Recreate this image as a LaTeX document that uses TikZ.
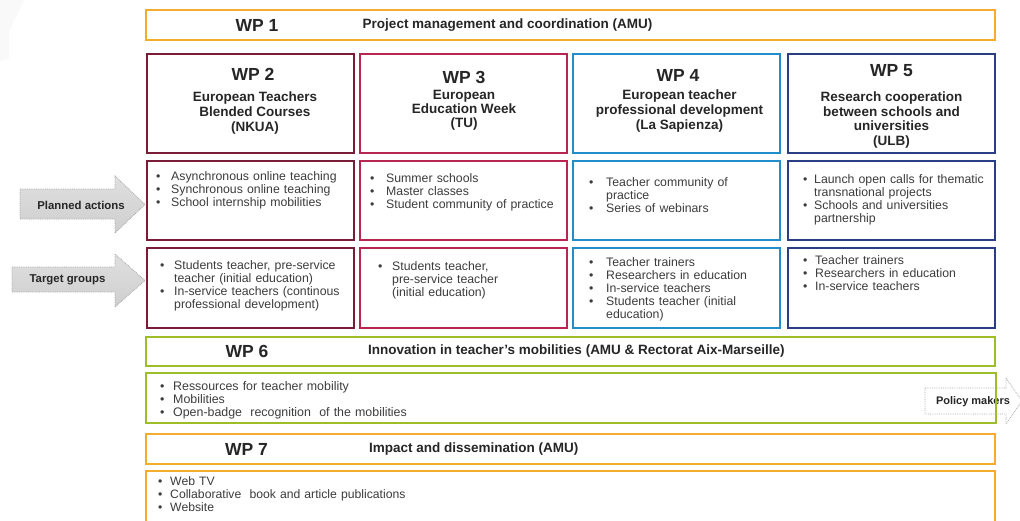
\documentclass[tikz,border=0pt]{standalone}
\usepackage{fontspec}
\usepackage{graphicx}
\setmainfont{Liberation Sans}
\definecolor{cOrange}{RGB}{244,172,45}
\definecolor{cMaroon}{RGB}{122,28,55}
\definecolor{cCrimson}{RGB}{184,38,82}
\definecolor{cBlue}{RGB}{32,142,205}
\definecolor{cNavy}{RGB}{42,62,132}
\definecolor{cGreen}{RGB}{158,190,40}
\definecolor{cText}{RGB}{38,38,38}
\definecolor{cList}{RGB}{60,60,60}
\newcommand{\bli}[2]{\noindent\hangindent=#1\hangafter=1\makebox[#1][l]{\textbullet}#2\par}
\begin{document}
\begin{tikzpicture}[x=1pt,y=-1pt,
  box/.style={draw, line width=2.2pt, inner sep=0pt, fill=white},
  wpnum/.style={font=\bfseries\fontsize{17.5}{19}\selectfont, text=cText, inner sep=0pt},
  wptitle/.style={font=\bfseries\fontsize{13.5}{15}\selectfont, align=center, text=cText, inner sep=0pt},
  wpline/.style={font=\bfseries\fontsize{13.5}{15}\selectfont, text=cText, inner sep=0pt},
  blist/.style={font=\fontsize{12.3}{13}\selectfont, text=cList, anchor=north west, align=left, inner sep=0pt, text width=200pt},
  nlist/.style={font=\fontsize{12.4}{13}\selectfont, text=cList, anchor=north west, align=left, inner sep=0pt, text width=400pt},
  garrow/.style={draw=gray!70, line width=0.8pt, densely dotted, top color=gray!25, bottom color=gray!38},
  parrow/.style={draw=gray!65, line width=0.8pt, densely dotted, fill=white},
  albl/.style={font=\bfseries\fontsize{11.4}{13}\selectfont, text=cText, inner sep=0pt}
]
\useasboundingbox (0,0) rectangle (1020,520);
% faint corner shape
\fill[gray!5] (0,0) -- (24,0) -- (9,32) -- (9,58) -- (0,62) -- cycle;

% WP1
\node[box, draw=cOrange, minimum width=849, minimum height=30] (wp1) at (570.5,25) {};
\node[wpnum] (wp1n) at (257,25) {WP 1};
\node[wpline] (wp1t) at (507.5,25) {Project management and coordination (AMU)};

% header boxes
\node[box, draw=cMaroon, minimum width=207, minimum height=99] (wp2h) at (250.5,103.5) {};
\node[box, draw=cCrimson, minimum width=207, minimum height=99] (wp3h) at (463.5,103.5) {};
\node[box, draw=cBlue, minimum width=207, minimum height=99] (wp4h) at (676.5,103.5) {};
\node[box, draw=cNavy, minimum width=207, minimum height=99] (wp5h) at (891.5,103.5) {};

\node[wpnum] (wp2n) at (253,74) {WP 2};
\node[wptitle] (wp2t) at (255,113.5) {European Teachers\\Blended Courses\\(NKUA)};
\node[wpnum] (wp3n) at (464,77) {WP 3};
\node[wptitle, font=\bfseries\fontsize{13.5}{14}\selectfont] (wp3t) at (464,110) {European\\Education Week\\(TU)};
\node[wpnum] (wp4n) at (678,75) {WP 4};
\node[wptitle] (wp4t) at (679.5,111.5) {European teacher\\professional development\\(La Sapienza)};
\node[wpnum] (wp5n) at (891.5,71) {WP 5};
\node[wptitle, font=\bfseries\fontsize{13.5}{14.5}\selectfont] (wp5t) at (891.5,120) {Research cooperation\\between schools and\\universities\\(ULB)};

% planned actions row
\node[box, draw=cMaroon, minimum width=207, minimum height=79] (wp2a) at (250.5,200.5) {};
\node[box, draw=cCrimson, minimum width=207, minimum height=79] (wp3a) at (463.5,200.5) {};
\node[box, draw=cBlue, minimum width=207, minimum height=79] (wp4a) at (676.5,200.5) {};
\node[box, draw=cNavy, minimum width=207, minimum height=79] (wp5a) at (891.5,200.5) {};

\node[blist] (wp2al) at (156,171) {\bli{15pt}{Asynchronous online teaching}\bli{15pt}{Synchronous online teaching}\bli{15pt}{School internship mobilities}};
\node[blist] (wp3al) at (370,173) {\bli{16pt}{Summer schools}\bli{16pt}{Master classes}\bli{16pt}{Student community of practice}};
\node[blist] (wp4al) at (589,177) {\bli{17pt}{Teacher community of\newline practice}\bli{17pt}{Series of webinars}};
\node[blist] (wp5al) at (803,174) {\bli{11pt}{Launch open calls for thematic\newline transnational projects}\bli{11pt}{Schools and universities\newline partnership}};

% target groups row
\node[box, draw=cMaroon, minimum width=207, minimum height=80] (wp2g) at (250.5,288) {};
\node[box, draw=cCrimson, minimum width=207, minimum height=80] (wp3g) at (463.5,288) {};
\node[box, draw=cBlue, minimum width=207, minimum height=80] (wp4g) at (676.5,288) {};
\node[box, draw=cNavy, minimum width=207, minimum height=80] (wp5g) at (891.5,288) {};

\node[blist] (wp2gl) at (160,260) {\bli{14pt}{Students teacher, pre-service\newline teacher (initial education)}\bli{14pt}{In-service teachers (continous\newline professional development)}};
\node[blist] (wp3gl) at (378,261) {\bli{14pt}{Students teacher,\newline pre-service teacher\newline (initial education)}};
\node[blist] (wp4gl) at (589,257) {\bli{17pt}{Teacher trainers}\bli{17pt}{Researchers in education}\bli{17pt}{In-service teachers}\bli{17pt}{Students teacher (initial\newline education)}};
\node[blist] (wp5gl) at (803,255) {\bli{12pt}{Teacher trainers}\bli{12pt}{Researchers in education}\bli{12pt}{In-service teachers}};

% left arrows
\draw[garrow] (20,189) -- (115,189) -- (115,176) -- (145,204.5) -- (115,233) -- (115,219) -- (20,219) -- cycle;
\node[albl] (pa) at (81,205) {Planned actions};
\draw[garrow] (12,267) -- (115,267) -- (115,254) -- (145,280.5) -- (115,307) -- (115,292) -- (12,292) -- cycle;
\node[albl] (tg) at (67.5,280) {Target groups};

% policy makers arrow
\draw[parrow] (925,388) -- (1006,388) -- (1006,378) -- (1022,401) -- (1006,424) -- (1006,414) -- (925,414) -- cycle;
\node[albl, font=\bfseries\fontsize{11}{13}\selectfont] (pm) at (973,402) {Policy makers};

% WP6
\node[box, draw=cGreen, minimum width=849, minimum height=29] (wp6h) at (570.5,351.5) {};
\node[wpnum] (wp6n) at (247,351) {WP 6};
\node[wpline, anchor=west] (wp6t) at (368,351) {Innovation in teacher's mobilities (AMU \& Rectorat Aix-Marseille)};
\draw[cGreen, line width=2.2pt] (146,373) rectangle (996,423);
\node[inner sep=0pt, minimum size=0pt] (wp6b) at (570.5,398) {};
\node[nlist] (wp6l) at (160,381) {\bli{13pt}{Ressources for teacher mobility}\bli{13pt}{Mobilities}\bli{13pt}{Open-badge\ \ recognition\ \ of the mobilities}};

% WP7
\node[box, draw=cOrange, minimum width=849, minimum height=30] (wp7h) at (570.5,449) {};
\node[wpnum] (wp7n) at (246.5,449) {WP 7};
\node[wpline, anchor=west] (wp7t) at (369,449) {Impact and dissemination (AMU)};
\node[box, draw=cOrange, minimum width=849, minimum height=60] (wp7b) at (570.5,501) {};
\node[nlist, font=\fontsize{12.2}{13}\selectfont] (wp7l) at (158,476) {\bli{12pt}{Web TV}\bli{12pt}{Collaborative\ \ book and article publications}\bli{12pt}{Website}};
\end{tikzpicture}
\end{document}
